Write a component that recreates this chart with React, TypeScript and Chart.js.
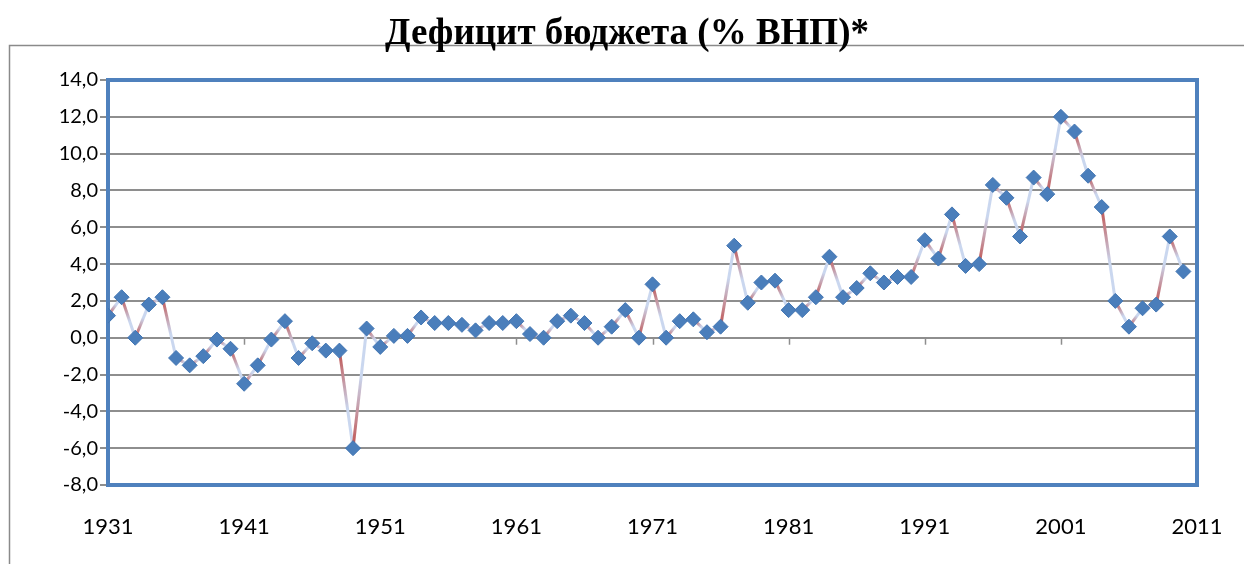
import React, { useEffect, useRef } from 'react';
import { Chart, registerables } from 'chart.js';

Chart.register(...registerables);

const TITLE = 'Дефицит бюджета (% ВНП)*';

const years = [
  1931, 1932, 1933, 1934, 1935, 1936, 1937, 1938, 1939, 1940,
  1941, 1942, 1943, 1944, 1945, 1946, 1947, 1948, 1949, 1950,
  1951, 1952, 1953, 1954, 1955, 1956, 1957, 1958, 1959, 1960,
  1961, 1962, 1963, 1964, 1965, 1966, 1967, 1968, 1969, 1970,
  1971, 1972, 1973, 1974, 1975, 1976, 1977, 1978, 1979, 1980,
  1981, 1982, 1983, 1984, 1985, 1986, 1987, 1988, 1989, 1990,
  1991, 1992, 1993, 1994, 1995, 1996, 1997, 1998, 1999, 2000,
  2001, 2002, 2003, 2004, 2005, 2006, 2007, 2008, 2009, 2010,
];

const deficit = [
  1.2, 2.2, 0.0, 1.8, 2.2, -1.1, -1.5, -1.0, -0.1, -0.6,
  -2.5, -1.5, -0.1, 0.9, -1.1, -0.3, -0.7, -0.7, -6.0, 0.5,
  -0.5, 0.1, 0.1, 1.1, 0.8, 0.8, 0.7, 0.4, 0.8, 0.8,
  0.9, 0.2, 0.0, 0.9, 1.2, 0.8, 0.0, 0.6, 1.5, 0.0,
  2.9, 0.0, 0.9, 1.0, 0.3, 0.6, 5.0, 1.9, 3.0, 3.1,
  1.5, 1.5, 2.2, 4.4, 2.2, 2.7, 3.5, 3.0, 3.3, 3.3,
  5.3, 4.3, 6.7, 3.9, 4.0, 8.3, 7.6, 5.5, 8.7, 7.8,
  12.0, 11.2, 8.8, 7.1, 2.0, 0.6, 1.6, 1.8, 5.5, 3.6,
];

const xTickYears = [1931, 1941, 1951, 1961, 1971, 1981, 1991, 2001, 2011];
const yMin = -8;
const yMax = 14;
const yStep = 2;

const RED = '#C0504D';
const LIGHT = '#CAD7EF';
const BLUE = '#4F81BD';
const GRID = '#8E8E8E';

const decorPlugin = {
  id: 'decor',
  beforeDraw(chart: any) {
    const { ctx } = chart;
    ctx.save();
    ctx.strokeStyle = '#8A8A8A';
    ctx.lineWidth = 1.5;
    ctx.beginPath();
    ctx.moveTo(9.5, 600);
    ctx.lineTo(9.5, 45.5);
    ctx.lineTo(1260, 45.5);
    ctx.stroke();
    ctx.fillStyle = '#000';
    ctx.font = 'bold 37px "Liberation Serif", "DejaVu Serif", serif';
    ctx.textAlign = 'center';
    ctx.textBaseline = 'alphabetic';
    ctx.fillText(TITLE, 627, 44);
    ctx.restore();
  },
  beforeDatasetsDraw(chart: any) {
    const { ctx, chartArea, scales } = chart;
    ctx.save();
    const y0 = scales.y.getPixelForValue(0);
    ctx.strokeStyle = GRID;
    ctx.lineWidth = 1.5;
    xTickYears.forEach((yr) => {
      const x = Math.round(scales.x.getPixelForValue(yr)) + 0.5;
      ctx.beginPath();
      ctx.moveTo(x, y0);
      ctx.lineTo(x, y0 + 7);
      ctx.stroke();
    });
    ctx.strokeStyle = BLUE;
    ctx.lineWidth = 4;
    ctx.strokeRect(chartArea.left, chartArea.top, chartArea.right - chartArea.left, chartArea.bottom - chartArea.top);
    ctx.restore();
  },
};

export default function App() {
  const ref = useRef<HTMLCanvasElement | null>(null);

  useEffect(() => {
    if (!ref.current) return;
    const points = years.map((yr, i) => ({ x: yr, y: deficit[i] }));
    const chart = new Chart(ref.current, {
      type: 'line',
      data: {
        datasets: [
          {
            data: points,
            borderColor: LIGHT,
            borderWidth: 3,
            tension: 0,
            pointStyle: 'rectRot',
            pointRadius: 7.5,
            pointHoverRadius: 7.5,
            pointBackgroundColor: '#4A7EBB',
            pointBorderColor: '#4275B2',
            pointBorderWidth: 1,
            segment: {
              borderColor: (c: any) => {
                const cx = c.chart ? c.chart.ctx : null;
                if (!cx || !c.p0 || !c.p1) return LIGHT;
                const g = cx.createLinearGradient(c.p0.x, c.p0.y, c.p1.x, c.p1.y);
                g.addColorStop(0, RED);
                g.addColorStop(0.6, LIGHT);
                g.addColorStop(1, LIGHT);
                return g;
              },
              borderDashOffset: (c: any) => c.p0DataIndex,
            },
          },
        ],
      },
      options: {
        animation: false,
        responsive: false,
        devicePixelRatio: 1,
        layout: { padding: { left: 0, right: 47, top: 80, bottom: 0 } },
        plugins: {
          legend: { display: false },
          title: { display: false },
          tooltip: { enabled: false },
        },
        scales: {
          x: {
            type: 'linear',
            min: xTickYears[0],
            max: xTickYears[xTickYears.length - 1],
            afterFit: (s: any) => { s.height = 79; },
            afterBuildTicks: (s: any) => { s.ticks = xTickYears.map((v) => ({ value: v })); },
            grid: { display: false, drawTicks: true, tickLength: 26 },
            border: { display: false },
            ticks: {
              padding: 3,
              color: '#000',
              font: { family: 'Lato, "Open Sans", sans-serif', size: 22 },
              callback: (v: any) => String(v),
              maxRotation: 0,
              autoSkip: false,
            },
          },
          y: {
            min: yMin,
            max: yMax,
            afterFit: (s: any) => { s.width = 108; },
            grid: { color: GRID, lineWidth: 2, tickLength: 8, drawTicks: true },
            border: { display: false },
            ticks: {
              stepSize: yStep,
              padding: 2,
              color: '#000',
              font: { family: 'Lato, "Open Sans", sans-serif', size: 20 },
              callback: (v: any) => Number(v).toFixed(1).replace('.', ','),
            },
          },
        },
      },
      plugins: [decorPlugin],
    });
    return () => chart.destroy();
  }, []);

  return (
    <div style={{ position: 'absolute', left: 0, top: 0, width: 1244, height: 564, background: '#fff' }}>
      <canvas ref={ref} width={1244} height={564} style={{ width: 1244, height: 564, display: 'block' }} />
    </div>
  );
}
